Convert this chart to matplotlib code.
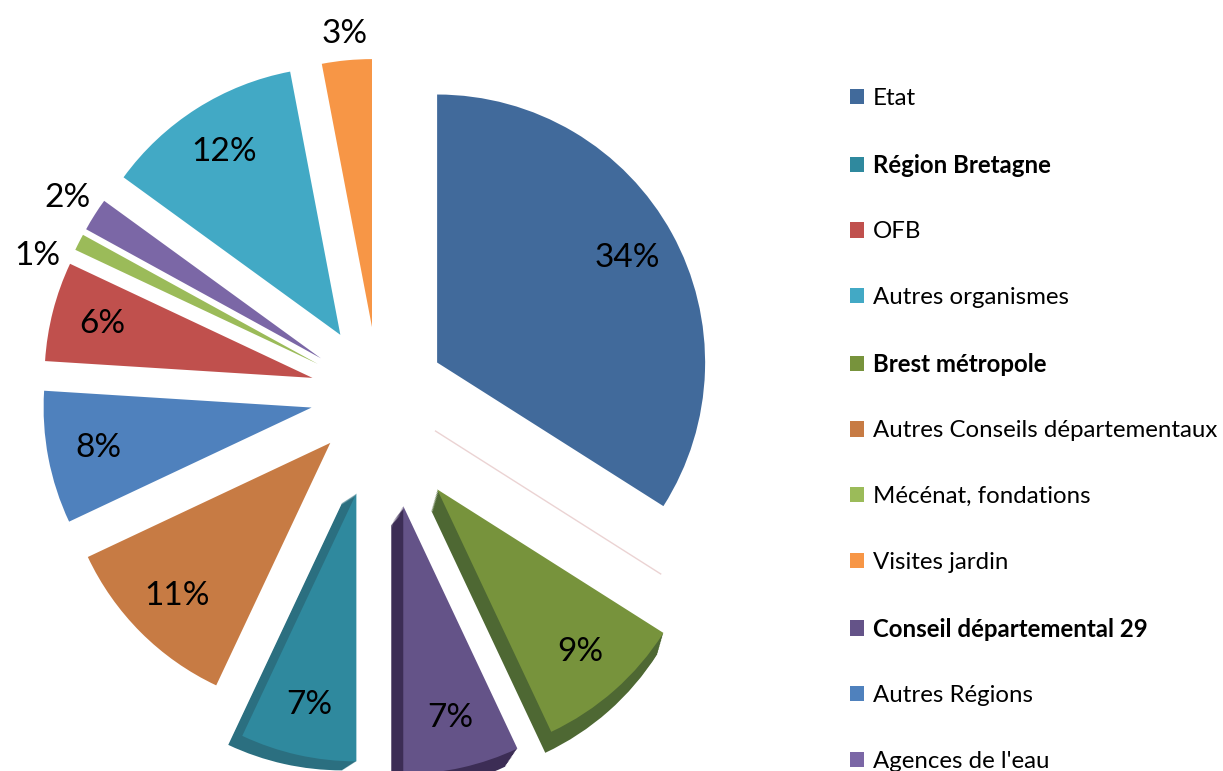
import numpy as np
import matplotlib.pyplot as plt
from matplotlib.patches import Wedge, Patch

plt.rcParams['font.family'] = ['Lato', 'DejaVu Sans']

# slices, clockwise from 12 o'clock (the empty one is a 0 value drawn as a thin line)
slice_names = ['Etat', '', 'Brest métropole', 'Conseil départemental 29', 'Région Bretagne',
               'Autres Conseils départementaux', 'Autres Régions', 'OFB', 'Mécénat, fondations',
               "Agences de l'eau", 'Autres organismes', 'Visites jardin']
slice_pct = [34, 0, 9, 7, 7, 11, 8, 6, 1, 2, 12, 3]

legend_order = ['Etat', 'Région Bretagne', 'OFB', 'Autres organismes', 'Brest métropole',
                'Autres Conseils départementaux', 'Mécénat, fondations', 'Visites jardin',
                'Conseil départemental 29', 'Autres Régions', "Agences de l'eau"]
legend_bold = ['Région Bretagne', 'Brest métropole', 'Conseil départemental 29']

colors = {
    'Etat': '#416A9B',
    'Région Bretagne': '#2F899E',
    'OFB': '#C0504D',
    'Autres organismes': '#42A9C5',
    'Brest métropole': '#77933C',
    'Autres Conseils départementaux': '#C77B44',
    'Mécénat, fondations': '#9BBB59',
    'Visites jardin': '#F79646',
    'Conseil départemental 29': '#645388',
    'Autres Régions': '#4F81BD',
    "Agences de l'eau": '#7B67A6',
    '': 'white',
}
# 3D side faces (color, dx, dy in pixels)
sides = {
    'Brest métropole': ('#4E6833', -6, -21),
    'Conseil départemental 29': ('#3C2D55', -12, -18),
    'Région Bretagne': ('#2B6F80', -14, -9),
}
# extra shift of some slices (pixels)
nudge = {'Brest métropole': (-14, -12)}

W, H = 1223, 771
fig = plt.figure(figsize=(W / 100, H / 100), dpi=100)
ax = fig.add_axes([0, 0, 1, 1])

explode = [67, 67, 110, 114, 101, 68, 68, 68, 68, 68, 71, 68]
R = 268

wedges, texts, autotexts = ax.pie(
    slice_pct, colors=[colors[n] for n in slice_names], explode=explode,
    radius=R, center=(378.4, 376.2), startangle=90, counterclock=False,
    autopct=lambda p: f'{p:.0f}%' if p > 0.5 else '', pctdistance=0.81,
    textprops=dict(fontsize=24, color='black'), normalize=True)

for w, name, val, t in zip(wedges, slice_names, slice_pct, autotexts):
    if val == 0:
        w.set_edgecolor('#EBD3D3')
        w.set_linewidth(1)
        w.set_facecolor('none')
        continue
    w.set_zorder(2)
    t.set_zorder(3)
    if name in nudge:
        nx, ny = nudge[name]
        w.set_center((w.center[0] + nx, w.center[1] + ny))
        tx, ty = t.get_position()
        t.set_position((tx + nx, ty + ny))
    cx, cy = w.center
    if name in sides:
        c, dx, dy = sides[name]
        for k in np.linspace(1, 0.05, 14):
            ax.add_patch(Wedge((cx + dx * k, cy + dy * k), w.r, w.theta1, w.theta2,
                               facecolor=c, edgecolor='none', zorder=1))
    if val < 5:
        th = np.deg2rad((w.theta1 + w.theta2) / 2 + (6 if val == 1 else 0))
        d = 1.10 if val == 3 else 1.12
        t.set_position((cx + d * R * np.cos(th), cy + d * R * np.sin(th)))

ax.set_xlim(0, W)
ax.set_ylim(0, H)
ax.set_aspect('equal')
ax.axis('off')

handles = [Patch(facecolor=colors[n], edgecolor='none') for n in legend_order]
leg = fig.legend(handles, legend_order, loc='upper left', bbox_to_anchor=(850 / W, 1 - 88 / H),
                 frameon=False, fontsize=17.3, handlelength=0.6, handleheight=0.6,
                 handletextpad=0.35, labelspacing=1.86, borderpad=0, borderaxespad=0)
for t in leg.get_texts():
    if t.get_text() in legend_bold:
        t.set_fontweight('bold')

fig.savefig('out.png', dpi=100)
